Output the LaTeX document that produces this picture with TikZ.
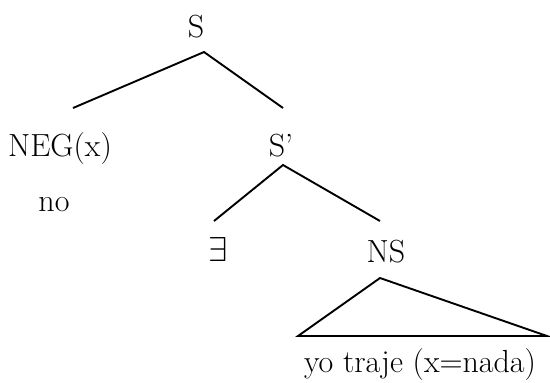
\documentclass[tikz,border=0pt]{standalone}
\usetikzlibrary{calc}
\begin{document}
\begin{tikzpicture}[x=0.5pt,y=-0.5pt,
  lbl/.style={inner sep=0pt,anchor=base,font=\fontsize{16}{19}\selectfont},
  edge/.style={line width=0.95pt}]
\useasboundingbox (0,0) rectangle (550,382);
% labels (base anchors)
\node[lbl] (S) at (196,37) {S};
\node[lbl] (NEG) at (60,156) {NEG(x)};
\node[lbl] (Sp) at (281,156) {S'};
\node[lbl] (no) at (54,211) {no};
\node[lbl] (E) at (218,261) {$\exists$};
\node[lbl] (NS) at (386,262) {NS};
\node[lbl] (yo) at (420,372) {yo traje (x=nada)};
% connector end points
\coordinate (Sa) at (204,52);
\coordinate (NEGt) at (73,108);
\coordinate (Spt) at (283,108);
\coordinate (Spa) at (283,165);
\coordinate (Et) at (214,221);
\coordinate (NSt) at (380,221);
\coordinate (NSa) at (380,278);
\coordinate (TL) at (298,336);
\coordinate (TR) at (547,336);
\draw[edge] (NEGt) -- (Sa) -- (Spt);
\draw[edge] (Et) -- (Spa) -- (NSt);
\draw[edge,line join=miter] (NSa) -- (TL) -- (TR) -- cycle;
\end{tikzpicture}
\end{document}
